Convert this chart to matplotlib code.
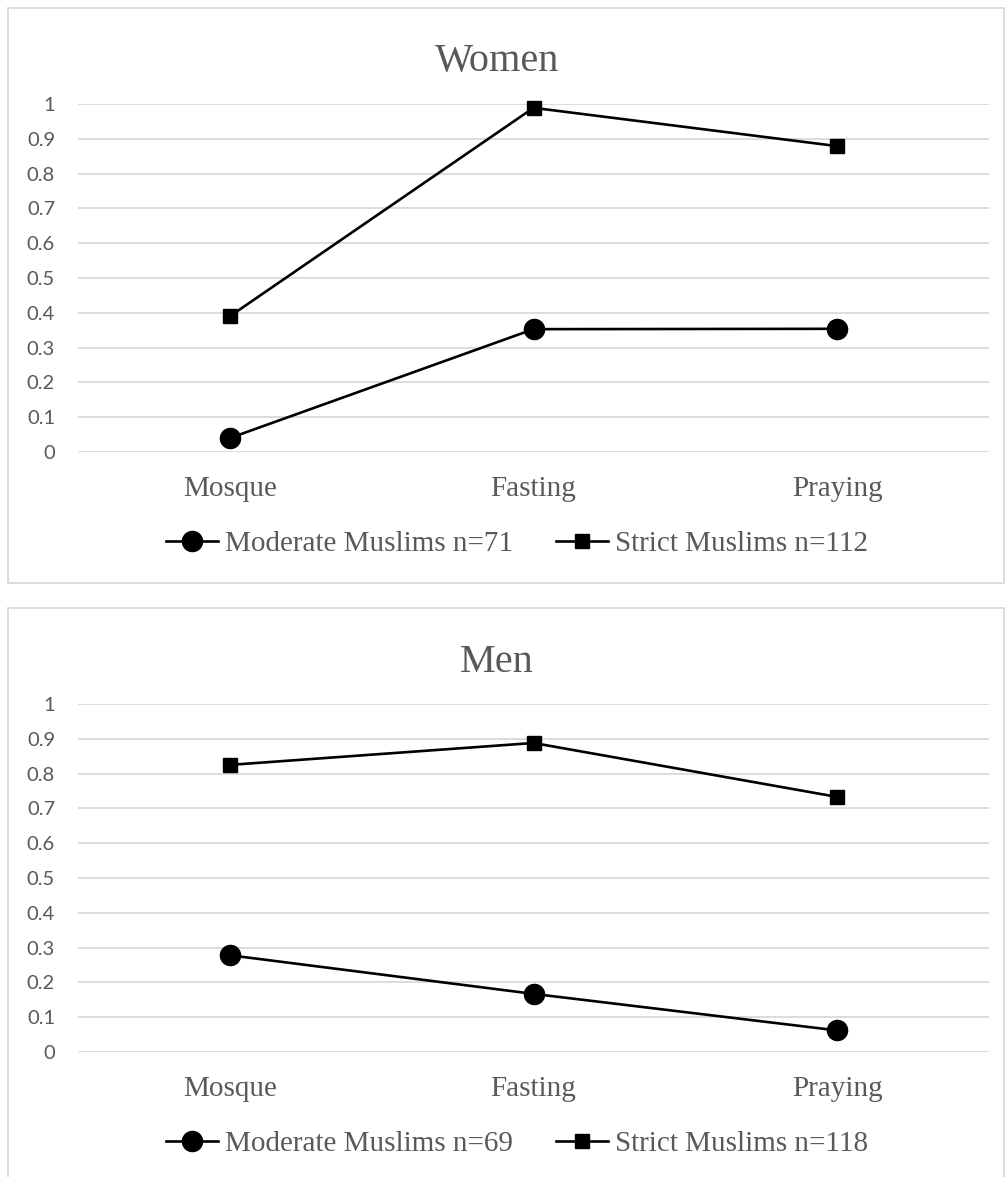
import matplotlib
matplotlib.use("Agg")
import matplotlib.pyplot as plt
from matplotlib.patches import Rectangle

categories = ["Mosque", "Fasting", "Praying"]
yticks = [0, 0.1, 0.2, 0.3, 0.4, 0.5, 0.6, 0.7, 0.8, 0.9, 1]
ytick_labels = ["0", "0.1", "0.2", "0.3", "0.4", "0.5", "0.6", "0.7", "0.8", "0.9", "1"]

women_moderate = [0.04, 0.353, 0.354]
women_strict = [0.39, 0.989, 0.879]
men_moderate = [0.278, 0.167, 0.062]
men_strict = [0.825, 0.888, 0.733]

women_labels = ["Moderate Muslims n=71", "Strict Muslims n=112"]
men_labels = ["Moderate Muslims n=69", "Strict Muslims n=118"]

W, H = 1007, 1177
TEXT = "#595959"
GRID = "#d9d9d9"
SERIF = "Liberation Serif"
SANS = "Lato"

fig = plt.figure(figsize=(W / 100, H / 100), dpi=100)


def px_rect(x0, y0, x1, y1):
    """Figure-fraction rectangle from pixel coordinates (origin top-left)."""
    return [x0 / W, 1 - y1 / H, (x1 - x0) / W, (y1 - y0) / H]


def panel(y_top, title, moderate, strict, labels, frame_bottom):
    # light frame around the chart
    fx, fy, fw, fh = px_rect(8, y_top - 96, 1004, frame_bottom)
    fig.patches.append(Rectangle((fx, fy), fw, fh, transform=fig.transFigure,
                                 fill=False, edgecolor=GRID, linewidth=1.3))

    ax = fig.add_axes(px_rect(78, y_top, 989, y_top + 348))
    x = list(range(len(categories)))
    ax.plot(x, moderate, color="black", lw=1.9, marker="o", markersize=14.5,
            label=labels[0], zorder=3)
    ax.plot(x, strict, color="black", lw=1.9, marker="s", markersize=10.5,
            label=labels[1], zorder=3)

    ax.set_xlim(-0.5, len(categories) - 0.5)
    ax.set_ylim(0, 1)
    ax.set_yticks(yticks)
    ax.set_yticklabels(ytick_labels, fontfamily=SANS, fontsize=14.5, color=TEXT)
    ax.set_xticks(x)
    ax.set_xticklabels(categories, fontfamily=SERIF, fontsize=21, color=TEXT)
    ax.tick_params(axis="y", length=0, pad=16.5)
    ax.tick_params(axis="x", length=0, pad=17)
    ax.yaxis.grid(True, color=GRID, linewidth=1.3)
    ax.set_axisbelow(True)
    for s in ax.spines.values():
        s.set_visible(False)
    for ln in ax.lines:
        ln.set_clip_on(False)

    fig.text(497 / W, 1 - (y_top - 42) / H, title, ha="center", va="center",
             fontfamily=SERIF, fontsize=29, color=TEXT)

    leg = ax.legend(ncol=2, loc="center",
                    bbox_to_anchor=(517 / W, 1 - (y_top + 440) / H),
                    bbox_transform=fig.transFigure, frameon=False,
                    prop={"family": SERIF, "size": 21},
                    handlelength=1.78, handletextpad=0.22, columnspacing=1.5,
                    borderpad=0, borderaxespad=0)
    for t in leg.get_texts():
        t.set_color(TEXT)
    return ax


panel(104, "Women", women_moderate, women_strict, women_labels, 583)
panel(704, "Men", men_moderate, men_strict, men_labels, 1190)

fig.savefig("out.png", dpi=100)
